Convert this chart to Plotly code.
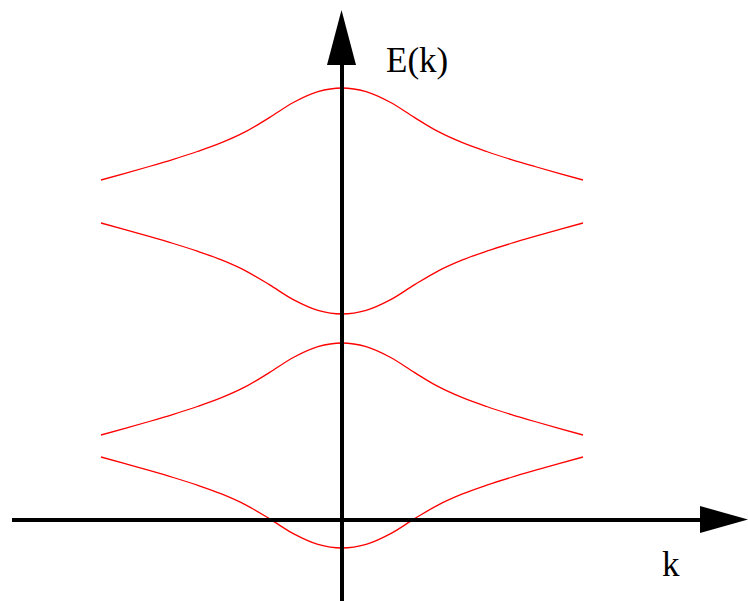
import plotly.graph_objects as go

# Wave vector samples across the zone (k normalised to the zone edge)
k = [-1.0, -0.9, -0.8, -0.7, -0.6, -0.5, -0.4, -0.3, -0.2, -0.1, 0.0,
     0.1, 0.2, 0.3, 0.4, 0.5, 0.6, 0.7, 0.8, 0.9, 1.0]

# Energy bands E(k), arbitrary units
band_1 = [3.400, 3.466, 3.535, 3.607, 3.685, 3.773, 3.883, 4.026, 4.177, 4.283, 4.320,
          4.283, 4.177, 4.026, 3.883, 3.773, 3.685, 3.607, 3.535, 3.466, 3.400]
band_2 = [2.970, 2.904, 2.836, 2.765, 2.688, 2.601, 2.492, 2.351, 2.201, 2.096, 2.060,
          2.096, 2.201, 2.351, 2.492, 2.601, 2.688, 2.765, 2.836, 2.904, 2.970]
band_3 = [0.850, 0.916, 0.985, 1.057, 1.135, 1.223, 1.333, 1.476, 1.627, 1.733, 1.770,
          1.733, 1.627, 1.476, 1.333, 1.223, 1.135, 1.057, 0.985, 0.916, 0.850]
band_4 = [0.630, 0.564, 0.496, 0.425, 0.348, 0.261, 0.152, 0.011, -0.139, -0.244, -0.280,
          -0.244, -0.139, 0.011, 0.152, 0.261, 0.348, 0.425, 0.496, 0.564, 0.630]
bands = [band_1, band_2, band_3, band_4]

x_label = "k"
y_label = "E(k)"

W, H = 748, 601
# pixel <-> data mapping for the frame
X0, KSCALE = 342.0, 241.0   # pixel of k=0, pixels per unit k
Y0, ESCALE = 520.0, 100.0   # pixel of E=0, pixels per unit E


def kx(px):
    return (px - X0) / KSCALE


def ey(py):
    return (Y0 - py) / ESCALE


fig = go.Figure()
for b in bands:
    fig.add_trace(go.Scatter(
        x=k, y=b, mode="lines",
        line=dict(color="#ff0000", width=1.3, shape="spline", smoothing=1.0),
        hoverinfo="skip", showlegend=False,
    ))

axis_line = dict(color="black", width=4)
shapes = [
    # horizontal k axis
    dict(type="line", xref="x", yref="y", x0=kx(12), x1=kx(702), y0=0, y1=0, line=axis_line),
    # vertical E axis
    dict(type="line", xref="x", yref="y", x0=0, x1=0, y0=ey(601), y1=ey(62), line=axis_line),
    # arrow heads
    dict(type="path", xref="x", yref="y",
         path=f"M {kx(700)},{ey(506)} L {kx(748)},{ey(519.5)} L {kx(700)},{ey(533)} Z",
         fillcolor="black", line=dict(color="black", width=0)),
    dict(type="path", xref="x", yref="y",
         path=f"M {kx(327)},{ey(65)} L {kx(341.5)},{ey(10)} L {kx(356)},{ey(65)} Z",
         fillcolor="black", line=dict(color="black", width=0)),
]

label_font = dict(family="Liberation Serif", size=35, color="black")
annotations = [
    dict(x=kx(417), y=ey(60), xref="x", yref="y", text=y_label, showarrow=False,
         font=label_font, xanchor="center", yanchor="middle"),
    dict(x=kx(671), y=ey(564), xref="x", yref="y", text=x_label, showarrow=False,
         font=label_font, xanchor="center", yanchor="middle"),
]

fig.update_layout(
    width=W, height=H,
    margin=dict(l=0, r=0, t=0, b=0),
    paper_bgcolor="white", plot_bgcolor="white",
    xaxis=dict(range=[kx(0), kx(W)], visible=False, fixedrange=True),
    yaxis=dict(range=[ey(H), ey(0)], visible=False, fixedrange=True),
    shapes=shapes, annotations=annotations,
)

fig.write_html("out.html")
